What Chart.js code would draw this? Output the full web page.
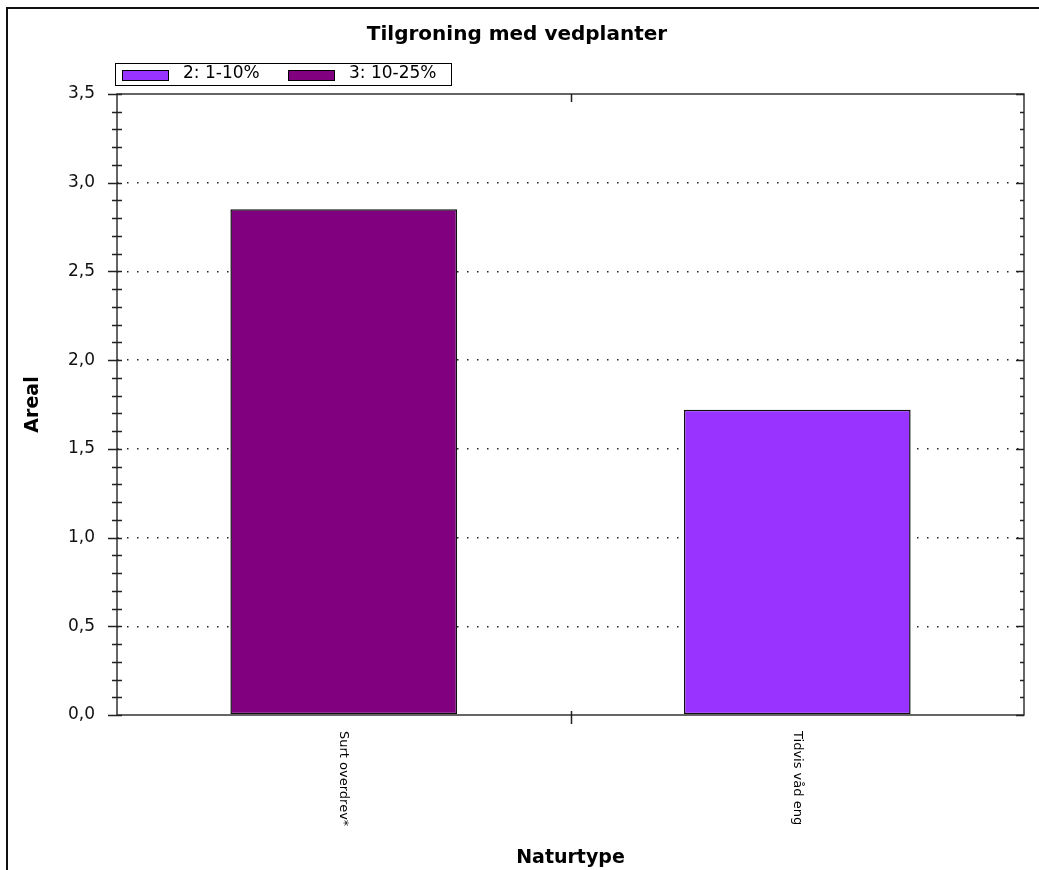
<!DOCTYPE html>
<html>
<head>
<meta charset="utf-8">
<script src="https://cdn.jsdelivr.net/npm/chart.js@4/dist/chart.umd.min.js"></script>
<style>
  html, body { margin: 0; padding: 0; background: #fff; }
  canvas { display: block; }
</style>
</head>
<body>
<canvas id="chart" width="1039" height="870"></canvas>
<script>
// chart data
var categories = ["Surt overdrev*", "Tidvis våd eng"];
var seriesLabels = ["2: 1-10%", "3: 10-25%"];
var seriesColors = ["#9933FF", "#800080"];
var series1to10 = [null, 1.72];
var series10to25 = [2.85, null];
var yTicks = [0, 0.5, 1.0, 1.5, 2.0, 2.5, 3.0, 3.5];

var FONT = "'DejaVu Sans', sans-serif";

function fmt(v) {
    return v.toFixed(1).replace(".", ",");
}

// Draws frame, plot border, tick marks, rotated category labels and the legend box
var decorPlugin = {
    id: "decor",
    afterDraw: function(chart) {
        var ctx = chart.ctx;
        var area = chart.chartArea;
        var x = chart.scales.x;
        var y = chart.scales.y;
        ctx.save();

        // outer frame
        ctx.strokeStyle = "#111";
        ctx.lineWidth = 2;
        ctx.strokeRect(7, 8, 1100, 1000);

        // plot border
        ctx.strokeStyle = "#333";
        ctx.lineWidth = 1.5;
        ctx.strokeRect(area.left, area.top, area.right - area.left, area.bottom - area.top);

        // y ticks, major + minor, on both sides
        ctx.lineWidth = 1.5;
        ctx.strokeStyle = "#222";
        var yMax = yTicks[yTicks.length - 1];
        var steps = Math.round(yMax / 0.1);
        for (var i = 0; i <= steps; i++) {
            var py = Math.round(y.getPixelForValue(i * 0.1)) + 0.5;
            var major = (i % 5 == 0);
            ctx.beginPath();
            ctx.moveTo(area.left - (major ? 9 : 5), py);
            ctx.lineTo(area.left + 5, py);
            ctx.moveTo(area.right - (major ? 8 : 4), py);
            ctx.lineTo(area.right, py);
            ctx.stroke();
        }

        // x tick between categories
        for (var c = 0; c < categories.length - 1; c++) {
            var px = Math.round((x.getPixelForValue(c) + x.getPixelForValue(c + 1)) / 2) + 0.5;
            ctx.beginPath();
            ctx.moveTo(px, area.bottom - 4);
            ctx.lineTo(px, area.bottom + 9);
            ctx.moveTo(px, area.top);
            ctx.lineTo(px, area.top + 8);
            ctx.stroke();
        }

        // category labels, rotated clockwise
        ctx.fillStyle = "#000";
        ctx.font = "13px " + FONT;
        ctx.textAlign = "left";
        ctx.textBaseline = "middle";
        for (var k = 0; k < categories.length; k++) {
            ctx.save();
            ctx.translate(x.getPixelForValue(k), area.bottom + 16);
            ctx.rotate(Math.PI / 2);
            ctx.fillText(categories[k], 0, 0);
            ctx.restore();
        }

        // legend box
        ctx.strokeStyle = "#000";
        ctx.lineWidth = 1;
        ctx.strokeRect(115.5, 63.5, 336, 22);
        ctx.font = "17px " + FONT;
        var itemX = [122, 288];
        for (var s = 0; s < seriesLabels.length; s++) {
            ctx.fillStyle = seriesColors[s];
            ctx.fillRect(itemX[s], 70, 47, 11);
            ctx.strokeRect(itemX[s] + 0.5, 70.5, 46, 10);
            ctx.fillStyle = "#000";
            ctx.fillText(seriesLabels[s], itemX[s] + 61, 74);
        }
        ctx.restore();
    }
};

var chartData = {
    labels: categories,
    datasets: [
        {
            label: seriesLabels[0],
            data: series1to10,
            backgroundColor: seriesColors[0],
            borderColor: "#111",
            borderWidth: 1.5,
            borderSkipped: false
        },
        {
            label: seriesLabels[1],
            data: series10to25,
            backgroundColor: seriesColors[1],
            borderColor: "#111",
            borderWidth: 1.5,
            borderSkipped: false
        }
    ]
};

var chartOptions = {
    responsive: false,
    animation: false,
    devicePixelRatio: 1,
    layout: { padding: { left: 10, right: 15, top: 0, bottom: 0 } },
    datasets: { bar: { barPercentage: 1, categoryPercentage: 0.5 } },
    plugins: {
        legend: { display: false },
        tooltip: { enabled: false },
        title: {
            display: true,
            text: "Tilgroning med vedplanter",
            color: "#000",
            font: { family: FONT, size: 20, weight: "bold" },
            padding: { top: 23, bottom: 47 }
        }
    },
    scales: {
        x: {
            stacked: true,
            grid: { display: false, drawTicks: false },
            border: { display: false },
            ticks: { display: false },
            title: {
                display: true,
                text: "Naturtype",
                color: "#000",
                font: { family: FONT, size: 19, weight: "bold" },
                padding: { top: 0, bottom: 1 }
            },
            afterFit: function(scale) { scale.height = 155; }
        },
        y: {
            stacked: true,
            min: 0,
            max: 3.5,
            afterBuildTicks: function(scale) {
                scale.ticks = yTicks.map(function(v) { return { value: v }; });
            },
            grid: {
                drawTicks: false,
                lineWidth: 1.5,
                color: function(c) {
                    if (c.tick && (c.tick.value === 0 || c.tick.value === 3.5)) return "rgba(0,0,0,0)";
                    return "#222";
                }
            },
            border: { display: false, dash: [1.5, 8.5] },
            ticks: {
                padding: 22,
                color: "#111",
                font: { family: FONT, size: 17 },
                callback: function(v) { return fmt(v); }
            },
            title: {
                display: true,
                text: "Areal",
                color: "#000",
                font: { family: FONT, size: 19, weight: "bold" },
                padding: { top: 12, bottom: 0 }
            },
            afterFit: function(scale) { scale.width = 107; }
        }
    }
};

new Chart(document.getElementById("chart"), {
    type: "bar",
    data: chartData,
    options: chartOptions,
    plugins: [decorPlugin]
});
</script>
</body>
</html>
